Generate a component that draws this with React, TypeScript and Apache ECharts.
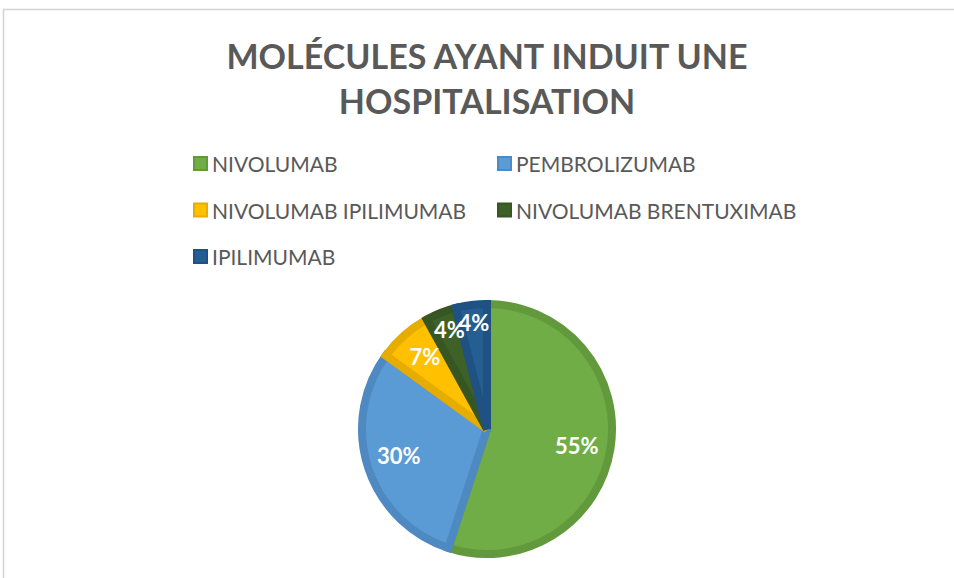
import React, { useEffect, useRef } from "react";
import * as echarts from "echarts";

const titleLines = ["MOLÉCULES AYANT INDUIT UNE", "HOSPITALISATION"];
const categories = [
  "NIVOLUMAB",
  "PEMBROLIZUMAB",
  "NIVOLUMAB IPILIMUMAB",
  "NIVOLUMAB BRENTUXIMAB",
  "IPILIMUMAB",
];
const values = [55, 30, 7, 4, 4];
const fillColors = ["#70AD47", "#5B9BD5", "#FFC000", "#3D6127", "#255E91"];
const edgeColors = ["#62993C", "#4F89C2", "#E6AC00", "#375623", "#1F5283"];
const legendLeftCol = ["NIVOLUMAB", "NIVOLUMAB IPILIMUMAB", "IPILIMUMAB"];
const legendRightCol = ["PEMBROLIZUMAB", "NIVOLUMAB BRENTUXIMAB"];
const labelOffsets = [[-6, 1], [4, -3], [2, 0], [-2, -9], [-1, -10]];

export default function App() {
  const ref = useRef<HTMLDivElement>(null);
  useEffect(() => {
    if (!ref.current) return;
    const chart = echarts.init(ref.current, null, { renderer: "svg" });
    const font = "Lato, 'Open Sans', sans-serif";
    const pieData = categories.map((name, i) => ({
      name,
      value: values[i],
      itemStyle: { color: fillColors[i], borderColor: edgeColors[i] },
    }));
    const labelData = categories.map((name, i) => ({
      name,
      value: values[i],
      label: { offset: labelOffsets[i] },
    }));
    const legendCommon = {
      orient: "vertical" as const,
      top: 153,
      padding: 0,
      icon: "rect",
      itemWidth: 13,
      itemHeight: 13,
      itemGap: 25.5,
      selectedMode: false,
      itemStyle: { borderWidth: 2 },
      textStyle: { fontFamily: font, fontSize: 21, color: "#595959", lineHeight: 20 },
    };
    chart.setOption({
      animation: false,
      backgroundColor: "#ffffff",
      graphic: [
        {
          type: "rect",
          shape: { x: 3.5, y: 9.5, width: 1200, height: 1200 },
          style: { fill: "none", stroke: "#D4D4D4", lineWidth: 1.5 },
          silent: true,
        },
        ...titleLines.map((t, i) => ({
          type: "text",
          x: 487,
          y: 55 + i * 45,
          silent: true,
          style: {
            text: t,
            fill: "#595959",
            font: `bold 34px ${font}`,
            textAlign: "center",
            textVerticalAlign: "middle",
          },
        })),
      ],
      legend: [
        { ...legendCommon, left: 193, data: legendLeftCol },
        { ...legendCommon, left: 497, data: legendRightCol },
      ],
      series: [
        {
          type: "pie",
          center: [487, 429],
          radius: [0, 125],
          startAngle: 90,
          clockwise: true,
          silent: true,
          itemStyle: { borderWidth: 8, borderJoin: "miter" },
          label: { show: false },
          labelLine: { show: false },
          data: pieData,
        },
        {
          type: "pie",
          center: [487, 429],
          radius: [58, 130],
          startAngle: 90,
          clockwise: true,
          silent: true,
          legendHoverLink: false,
          itemStyle: { color: "rgba(0,0,0,0)", borderWidth: 0 },
          labelLayout: { hideOverlap: false },
          label: {
            show: true,
            position: "inside",
            formatter: (p: any) => p.value + "%",
            color: "#ffffff",
            fontFamily: font,
            fontWeight: "bold",
            fontSize: 22,
          },
          labelLine: { show: false },
          data: labelData,
        },
      ],
    });
    return () => chart.dispose();
  }, []);
  return (
    <div
      ref={ref}
      style={{ position: "fixed", left: 0, top: 0, width: 954, height: 578 }}
    />
  );
}
